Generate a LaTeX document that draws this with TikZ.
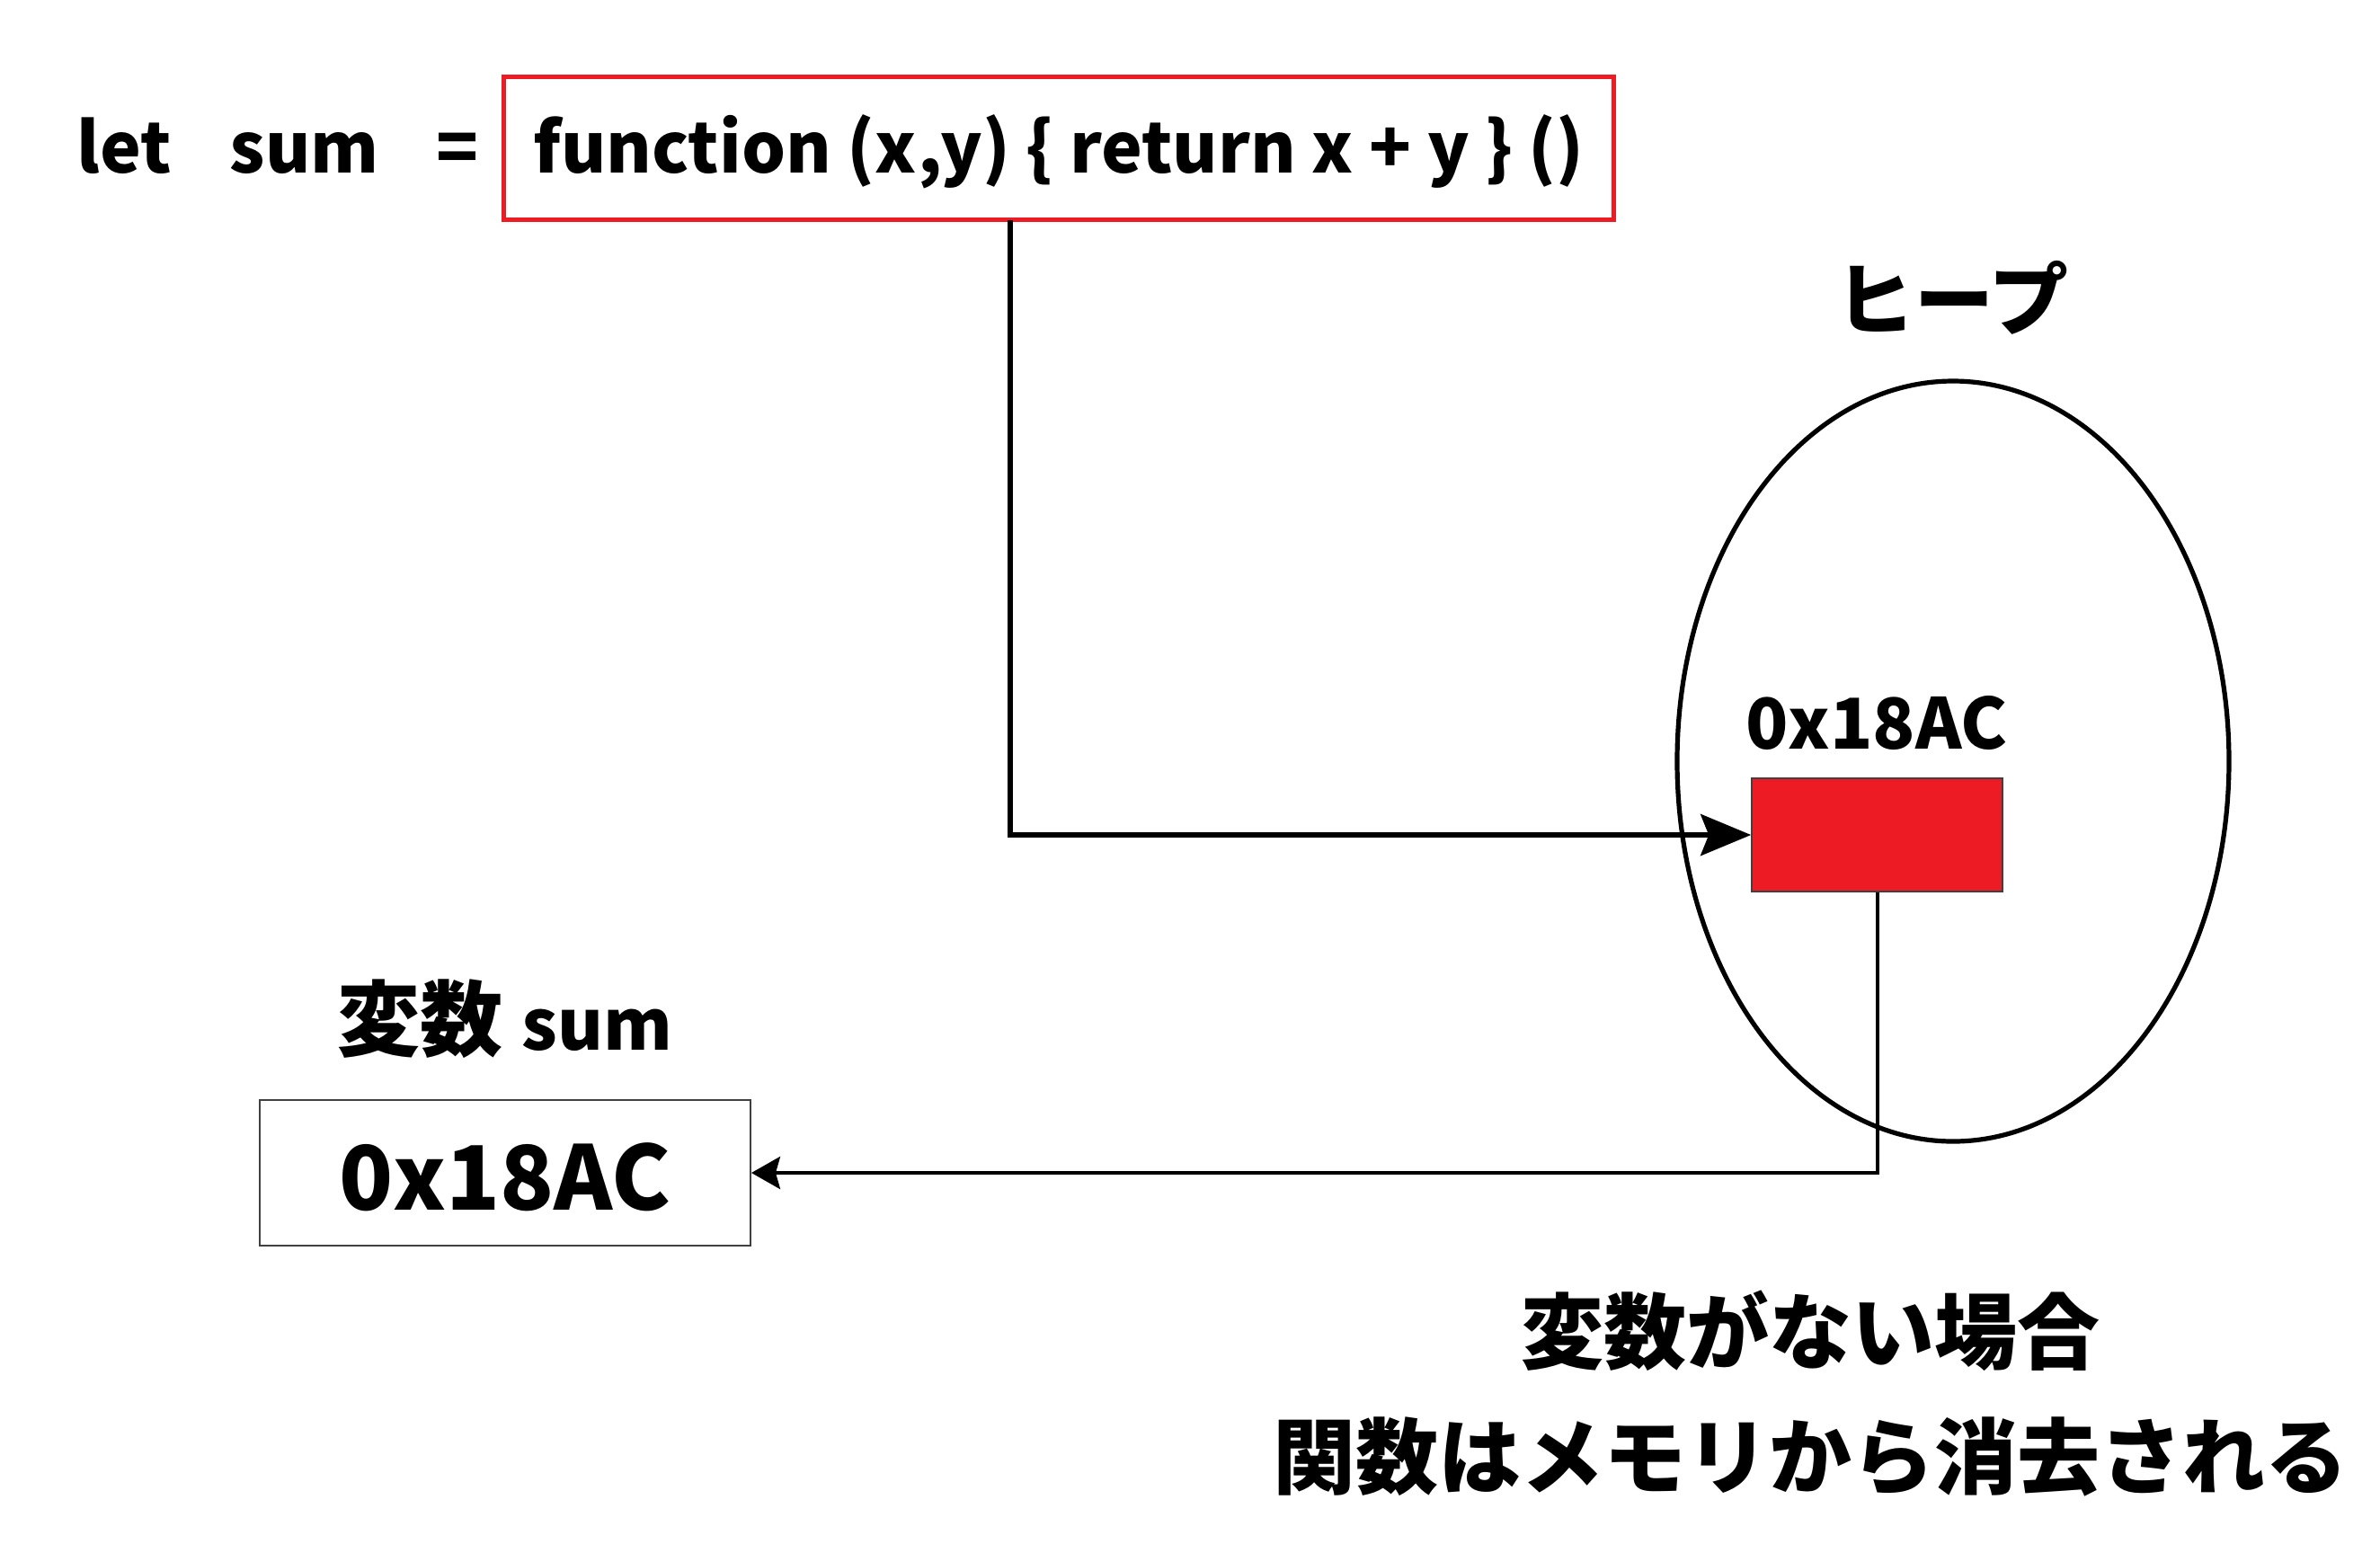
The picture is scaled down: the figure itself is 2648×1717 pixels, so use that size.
\documentclass[tikz,border=0pt]{standalone}
\usepackage{fontspec}
\setmainfont{Noto Sans CJK JP}
\usetikzlibrary{arrows.meta,shapes.geometric}
\definecolor{heapred}{RGB}{237,28,36}
\definecolor{edgegray}{RGB}{64,64,64}

\begin{document}
\begin{tikzpicture}[x=0.25pt, y=0.25pt, yscale=-1,
  word/.style={inner sep=0pt, font=\fontsize{19.3pt}{24pt}\selectfont\bfseries},
  jword/.style={inner sep=0pt, font=\fontsize{23pt}{28pt}\selectfont\bfseries},
  codebox/.style={draw=heapred, line width=1.25pt, inner sep=0pt,
    minimum width=308.75pt, minimum height=39.9pt, text height=18pt, text depth=4.5pt},
  varbox/.style={draw=edgegray, line width=0.5pt, inner sep=0pt,
    minimum width=136.5pt, minimum height=40.5pt, text height=27pt, text depth=6.5pt,
    font=\fontsize{24.7pt}{30pt}\selectfont\bfseries},
  heapshape/.style={draw, ellipse, line width=1.3pt, inner sep=0pt,
    minimum width=153.5pt, minimum height=211.5pt},
  objbox/.style={draw=edgegray, fill=heapred, line width=0.4pt, inner sep=0pt,
    minimum width=69.75pt, minimum height=31.5pt},
  bigarrow/.style={line width=1.5pt, -{Stealth[length=14pt, width=11.5pt, inset=2.25pt]}},
  smallarrow/.style={line width=1pt, -{Stealth[length=8pt, width=9pt, inset=1.25pt]}}]

\useasboundingbox (0,0) rectangle (2648,1717);

\node[word, anchor=base west] (let) at (85,192) {let};
\node[word, anchor=base west] (sum) at (255,192) {sum};
\node[word, anchor=base west] (eq) at (485,192) {=};
\node[codebox, word] (code) at (1178,165) {function (x,y) \{ return x + y \} ()};

\node[jword, font=\fontsize{22pt}{26pt}\selectfont\bfseries, anchor=base] (heaplabel) at (2172,366) {ヒープ};
\node[heapshape] (heap) at (2173,847) {};
\node[word, font=\fontsize{19.5pt}{24pt}\selectfont\bfseries, anchor=base] (addr) at (2088,833) {0x18AC};
\node[objbox] (obj) at (2088.5,929) {};

\node[jword, anchor=base] (varlabel) at (562,1168) {変数 {\fontsize{19.5pt}{24pt}\selectfont sum}};
\node[varbox] (var) at (562,1305) {0x18AC};

\node[jword, anchor=base] (note1) at (2014,1516) {変数がない場合};
\node[jword, anchor=base] (note2) at (2014,1655) {関数はメモリから消去される};

\coordinate (start) at (1124,245);
\draw[bigarrow] (start) |- (obj.west);
\draw[smallarrow] (obj.south) |- (var.east);

\end{tikzpicture}
\end{document}
